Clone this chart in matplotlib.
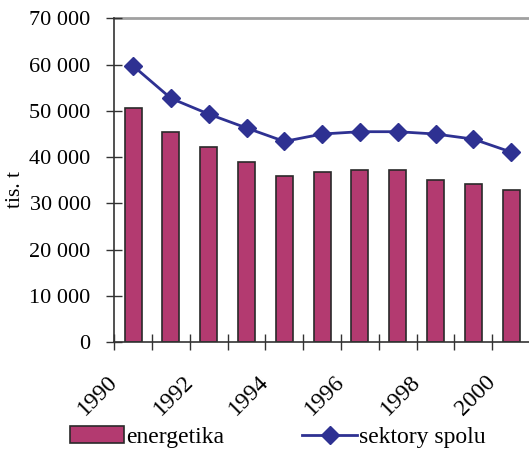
import numpy as np
import matplotlib
matplotlib.use("Agg")
import matplotlib.pyplot as plt
from matplotlib.ticker import FuncFormatter, FixedLocator
from matplotlib.transforms import ScaledTranslation

years = [1990, 1991, 1992, 1993, 1994, 1995, 1996, 1997, 1998, 1999, 2000]
energetika = [50600, 45500, 42100, 38900, 36000, 36800, 37300, 37300, 35100, 34200, 33000]
sektory_spolu = [59700, 52700, 49300, 46300, 43400, 45000, 45500, 45500, 45000, 43900, 41100]
year_labels = ["1990", "", "1992", "", "1994", "", "1996", "", "1998", "", "2000"]

plt.rcParams['font.family'] = ['Liberation Serif', 'DejaVu Serif']
FS = 16

fig = plt.figure(figsize=(5.29, 4.5), dpi=100)
ax = fig.add_axes([114.3 / 529, (450 - 342.3) / 450, (530 - 114.3) / 529, 324.0 / 450])

x = np.arange(len(years))
bars = ax.bar(x, energetika, width=0.45, color='#B33A70', edgecolor='#2a2a2a',
              linewidth=1.2, label='energetika', zorder=2)
line, = ax.plot(x, sektory_spolu, color='#2E3192', lw=2, marker='D', markersize=9.5,
                label='sektory spolu', zorder=3)

ax.set_xlim(-0.5, len(years) - 0.5)
ax.set_ylim(0, 70000)
ax.set_yticks(np.arange(0, 70001, 10000))
ax.yaxis.set_major_formatter(FuncFormatter(lambda v, p: f"{int(v):,}".replace(",", " ")))
ax.axhline(70000, color='#a0a0a0', lw=2, zorder=1, clip_on=False)

# category boundaries as ticks, labels at centres
ax.xaxis.set_major_locator(FixedLocator(np.arange(-0.5, len(years), 1.0)))
ax.set_xticklabels([])
ax.set_xticks(x, minor=True)
ax.set_xticklabels(year_labels, minor=True, rotation=45, ha='right', va='top', fontsize=17)
ax.tick_params(axis='x', which='minor', length=0, pad=21)
off = ScaledTranslation(-11 / 100, 0, fig.dpi_scale_trans)
for lbl in ax.get_xticklabels(minor=True):
    lbl.set_transform(lbl.get_transform() + off)

ax.tick_params(axis='x', which='major', direction='inout', length=12, width=1, color='#333333')
ax.tick_params(axis='y', direction='inout', length=12, width=1, color='#333333',
               labelsize=FS, pad=11)

for s in ['top', 'right']:
    ax.spines[s].set_visible(False)
ax.spines['left'].set_color('#333333')
ax.spines['bottom'].set_color('#333333')
ax.spines['left'].set_linewidth(1.2)
ax.spines['bottom'].set_linewidth(1.2)

fig.text(15 / 529, (450 - 189) / 450, 'tis. t', rotation=90, ha='center', va='center',
         fontsize=15.5)

fig.legend([bars, line], ['energetika', 'sektory spolu'], loc='center',
           bbox_to_anchor=(0.525, (450 - 437) / 450), ncol=2, frameon=False, fontsize=17,
           handlelength=2.3, handletextpad=0.1, columnspacing=3.3, borderaxespad=0)

fig.savefig("out.png", dpi=100)
